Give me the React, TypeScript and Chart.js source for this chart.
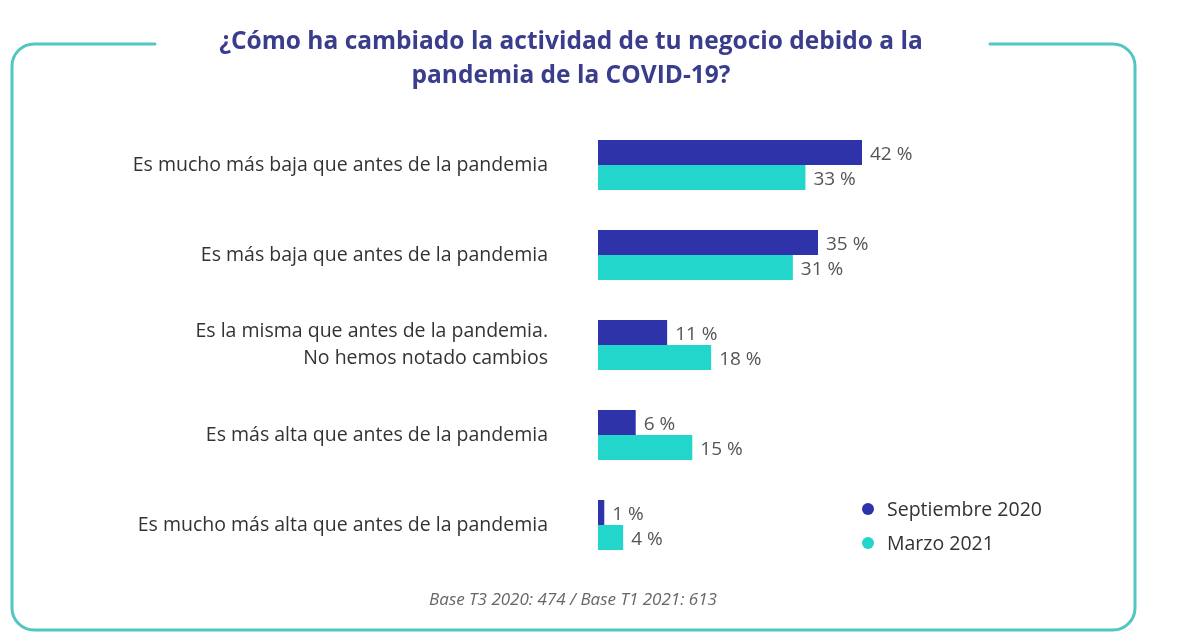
import React, { useEffect, useRef } from "react";
import { Chart, registerables } from "chart.js";

Chart.register(...registerables);

const categories: (string | string[])[] = [
  "Es mucho más baja que antes de la pandemia",
  "Es más baja que antes de la pandemia",
  ["Es la misma que antes de la pandemia.", "No hemos notado cambios"],
  "Es más alta que antes de la pandemia",
  "Es mucho más alta que antes de la pandemia",
];
const septiembre2020 = [42, 35, 11, 6, 1];
const marzo2021 = [33, 31, 18, 15, 4];
const seriesNames = ["Septiembre 2020", "Marzo 2021"];
const titleLines = [
  "¿Cómo ha cambiado la actividad de tu negocio debido a la",
  "pandemia de la COVID-19?",
];
const footerText = "Base T3 2020: 474 / Base T1 2021: 613";

const DARK = "#2e33aa";
const TEAL = "#22d6cb";
const FRAME = "#52c6c1";
const FONT = "'Open Sans', 'DejaVu Sans', sans-serif";

const decorPlugin = {
  id: "decor",
  beforeDraw(chart: any) {
    const ctx = chart.ctx;
    ctx.save();
    ctx.fillStyle = "#ffffff";
    ctx.fillRect(0, 0, chart.width, chart.height);
    // frame with a gap on top for the title
    const l = 12, t = 44, r = 1135, b = 630, rad = 22;
    ctx.strokeStyle = FRAME;
    ctx.lineWidth = 3;
    ctx.lineCap = "round";
    ctx.beginPath();
    ctx.moveTo(155, t);
    ctx.lineTo(l + rad, t);
    ctx.arcTo(l, t, l, t + rad, rad);
    ctx.lineTo(l, b - rad);
    ctx.arcTo(l, b, l + rad, b, rad);
    ctx.lineTo(r - rad, b);
    ctx.arcTo(r, b, r, b - rad, rad);
    ctx.lineTo(r, t + rad);
    ctx.arcTo(r, t, r - rad, t, rad);
    ctx.lineTo(990, t);
    ctx.stroke();
    // title
    ctx.fillStyle = "#3a3d8c";
    ctx.font = `bold 24.5px ${FONT}`;
    ctx.textAlign = "center";
    ctx.textBaseline = "middle";
    titleLines.forEach((line, i) => ctx.fillText(line, 571, 42 + i * 34));
    // footer
    ctx.fillStyle = "#666666";
    ctx.font = `italic 17px ${FONT}`;
    ctx.fillText(footerText, 573, 600);
    ctx.restore();
  },
  afterDatasetsDraw(chart: any) {
    const ctx = chart.ctx;
    ctx.save();
    ctx.font = `19px ${FONT}`;
    ctx.fillStyle = "#555555";
    ctx.textAlign = "left";
    ctx.textBaseline = "middle";
    chart.data.datasets.forEach((ds: any, di: number) => {
      const meta = chart.getDatasetMeta(di);
      meta.data.forEach((el: any, i: number) => {
        ctx.fillText(`${ds.data[i]} %`, el.x + 8, el.y + 2);
      });
    });
    // legend
    const colors = [DARK, TEAL];
    ctx.font = `19.5px ${FONT}`;
    seriesNames.forEach((name, i) => {
      const y = 509 + i * 34;
      ctx.fillStyle = colors[i];
      ctx.beginPath();
      ctx.arc(868, y, 6, 0, Math.PI * 2);
      ctx.fill();
      ctx.fillStyle = "#333333";
      ctx.fillText(name, 887, y + 1);
    });
    ctx.restore();
  },
};

export default function App() {
  const ref = useRef<HTMLCanvasElement>(null);
  useEffect(() => {
    if (!ref.current) return;
    const chart = new Chart(ref.current, {
      type: "bar",
      data: {
        labels: categories,
        datasets: [
          { label: seriesNames[0], data: septiembre2020, backgroundColor: DARK },
          { label: seriesNames[1], data: marzo2021, backgroundColor: TEAL },
        ],
      },
      options: {
        indexAxis: "y",
        responsive: false,
        animation: false,
        layout: { padding: { top: 120, bottom: 74, left: 0, right: 162 } },
        datasets: {
          bar: { categoryPercentage: 0.556, barPercentage: 1.0 },
        },
        scales: {
          x: { display: false, min: 0, max: 70 },
          y: {
            grid: { display: false, drawTicks: false },
            border: { display: false },
            ticks: {
              padding: 50,
              color: "#333333",
              font: { family: FONT, size: 19.5, lineHeight: 1.4 },
            },
            afterFit(scale: any) {
              scale.width = 598;
            },
          },
        },
        plugins: {
          legend: { display: false },
          title: { display: false },
          tooltip: { enabled: false },
        },
      },
      plugins: [decorPlugin],
    });
    return () => chart.destroy();
  }, []);
  return (
    <div style={{ position: "fixed", left: 0, top: 0, width: 1200, height: 644 }}>
      <canvas ref={ref} width={1200} height={644} />
    </div>
  );
}
